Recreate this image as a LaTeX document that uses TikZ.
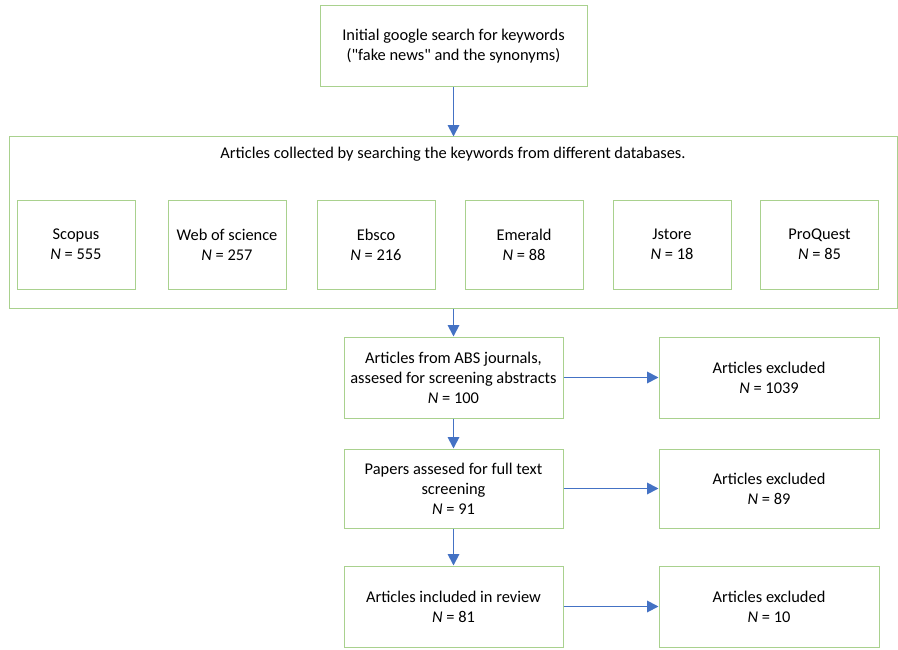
\documentclass[tikz,border=0pt]{standalone}
\usepackage{fontspec}
\newfontfamily\calib{Carlito}
\usetikzlibrary{arrows.meta}
\definecolor{boxgreen}{RGB}{169,209,142}
\definecolor{arrowblue}{RGB}{68,114,196}
\begin{document}
\begin{tikzpicture}[x=0.75pt,y=-0.75pt,
  box/.style={draw=boxgreen,line width=0.75pt,align=center,inner sep=0pt,
    font=\calib\fontsize{12.3pt}{15pt}\selectfont},
  lbl/.style={align=center,inner sep=0pt,font=\calib\fontsize{12.3pt}{15pt}\selectfont},
  arr/.style={draw=arrowblue,line width=1.4pt,-{Triangle[length=8.5pt,width=8.5pt]}}]
\useasboundingbox (0,0) rectangle (898,649);
\node[box,minimum width=267*0.75pt,minimum height=81*0.75pt] (top) at (453.5,46.5)
  {Initial google search for keywords\\("fake news" and the synonyms)};
\node[box,minimum width=888*0.75pt,minimum height=171*0.75pt] (cont) at (453,222.5) {};
\node[lbl] (title) at (453,154) {Articles collected by searching the keywords from different databases.};
\foreach \nm/\x/\t/\n in {scopus/76/Scopus/555, wos/227/Web of science/257, ebsco/376/Ebsco/216,
  emerald/524/Emerald/88, jstore/672/Jstore/18, proquest/819.5/ProQuest/85}{
  \node[box,minimum width=118*0.75pt,minimum height=89*0.75pt] (\nm) at (\x,244.5)
    {\t\\\textit{N} = \n};
}
\node[box,minimum width=219*0.75pt,minimum height=81*0.75pt] (abs) at (453.5,377.5)
  {Articles from ABS journals,\\assesed for screening abstracts\\\textit{N} = 100};
\node[box,minimum width=219*0.75pt,minimum height=79*0.75pt] (full) at (453.5,488.5)
  {Papers assesed for full text\\screening\\\textit{N} = 91};
\node[box,minimum width=219*0.75pt,minimum height=81*0.75pt] (incl) at (453.5,606.5)
  {Articles included in review\\\textit{N} = 81};
\node[box,minimum width=220*0.75pt,minimum height=81*0.75pt] (ex1) at (769,377.5)
  {Articles excluded\\\textit{N} = 1039};
\node[box,minimum width=220*0.75pt,minimum height=79*0.75pt] (ex2) at (769,488.5)
  {Articles excluded\\\textit{N} = 89};
\node[box,minimum width=220*0.75pt,minimum height=81*0.75pt] (ex3) at (769,606.5)
  {Articles excluded\\\textit{N} = 10};
\draw[arr] (top.south) -- (top.south |- cont.north);
\draw[arr] (abs.north |- cont.south) -- (abs.north);
\draw[arr] (abs.south) -- (full.north);
\draw[arr] (full.south) -- (incl.north);
\draw[arr] (abs.east) -- (ex1.west);
\draw[arr] (full.east) -- (ex2.west);
\draw[arr] (incl.east) -- (ex3.west);
\end{tikzpicture}
\end{document}
